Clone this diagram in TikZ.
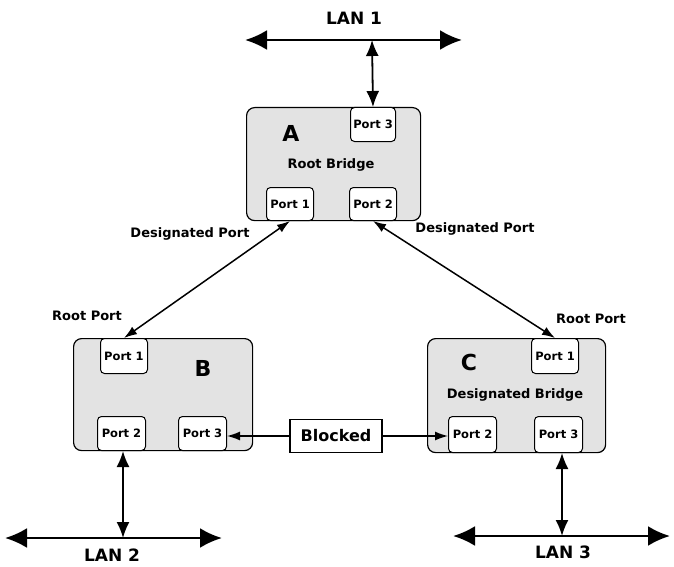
\documentclass[tikz,border=0pt]{standalone}
\usepackage{fontspec}
\setmainfont{DejaVu Sans}
\usetikzlibrary{arrows.meta}
\begin{document}
\begin{tikzpicture}[x=1pt,y=-1pt,
  bridge/.style={draw, line width=1.2pt, fill=gray!22, rounded corners=8pt, inner sep=0pt, anchor=north west},
  portbox/.style={draw, line width=1pt, fill=white, rounded corners=4pt, inner sep=0pt, anchor=north west, font=\bfseries\fontsize{11.5}{12}\selectfont},
  lbl/.style={font=\bfseries\fontsize{13}{14}\selectfont, inner sep=0pt},
  lanlbl/.style={font=\bfseries\fontsize{17}{18}\selectfont, inner sep=0pt},
  bname/.style={font=\bfseries\fontsize{22}{23}\selectfont, inner sep=0pt},
  lan/.style={line width=2.6pt, {Latex[length=22pt,width=20pt]}-{Latex[length=22pt,width=20pt]}},
  drop/.style={line width=1.8pt, {Latex[length=16pt,width=13pt]}-{Latex[length=16pt,width=13pt]}},
  link/.style={line width=1.5pt, {Latex[length=13pt,width=9pt]}-{Latex[length=13pt,width=9pt]}},
  blk/.style={line width=1.4pt, -{Latex[length=13pt,width=9pt]}}
]
\useasboundingbox (0,0) rectangle (674,567);
% LAN 1
\coordinate (l1a) at (245,40);
\coordinate (l1b) at (462,40);
\coordinate (l1t) at (372,40);
\draw[lan] (l1a) -- (l1b);
\node[lanlbl] (lan1) at (354,18) {LAN 1};
% Bridge A
\node[bridge, minimum width=174pt, minimum height=113pt] (A) at (246,107) {};
\node[portbox, minimum width=45pt, minimum height=34pt] (A3) at (350,107) {Port 3};
\node[portbox, minimum width=47pt, minimum height=33pt] (A1) at (266,187) {Port 1};
\node[portbox, minimum width=47pt, minimum height=33pt] (A2) at (349,187) {Port 2};
\node[bname] (Aname) at (291,133) {A};
\node[lbl] (Arole) at (331,165) {Root Bridge};
\draw[drop] (l1t) -- (A3.north);
% Bridge B
\node[bridge, minimum width=179pt, minimum height=112pt] (B) at (73,338) {};
\node[portbox, minimum width=47pt, minimum height=35pt] (B1) at (100,338) {Port 1};
\node[portbox, minimum width=48pt, minimum height=34pt] (B2) at (97,416) {Port 2};
\node[portbox, minimum width=48pt, minimum height=34pt] (B3) at (178,416) {Port 3};
\node[bname] (Bname) at (203,368) {B};
% Bridge C
\node[bridge, minimum width=178pt, minimum height=114pt] (C) at (427,338) {};
\node[portbox, minimum width=47pt, minimum height=35pt] (C1) at (531,338) {Port 1};
\node[portbox, minimum width=48pt, minimum height=36pt] (C2) at (448,416) {Port 2};
\node[portbox, minimum width=48pt, minimum height=36pt] (C3) at (534,416) {Port 3};
\node[bname] (Cname) at (469,362) {C};
\node[lbl] (Crole) at (515,395) {Designated Bridge};
% links between bridges
\draw[link] (A1.south) -- (B1.north);
\draw[link] (A2.south) -- (C1.north);
\node[lbl] (dpl) at (190,234) {Designated Port};
\node[lbl] (dpr) at (475,229) {Designated Port};
\node[lbl] (rpl) at (87,316) {Root Port};
\node[lbl] (rpr) at (591,319) {Root Port};
% blocked
\node[draw, line width=1.2pt, fill=white, minimum width=92pt, minimum height=33pt, inner sep=0pt, font=\bfseries\fontsize{16}{17}\selectfont] (blocked) at (336,436) {Blocked};
\draw[blk] (blocked.west) -- (B3.east |- blocked.west);
\draw[blk] (blocked.east) -- (C2.west |- blocked.east);
% LAN 2
\coordinate (l2a) at (5,538);
\coordinate (l2b) at (222,538);
\coordinate (l2t) at (123,538);
\draw[lan] (l2a) -- (l2b);
\draw[drop] (l2t) -- (l2t |- B2.south);
\node[lanlbl] (lan2) at (112,555) {LAN 2};
% LAN 3
\coordinate (l3a) at (453,536);
\coordinate (l3b) at (670,536);
\coordinate (l3t) at (562,536);
\draw[lan] (l3a) -- (l3b);
\draw[drop] (l3t) -- (l3t |- C3.south);
\node[lanlbl] (lan3) at (563,552) {LAN 3};
\end{tikzpicture}
\end{document}
